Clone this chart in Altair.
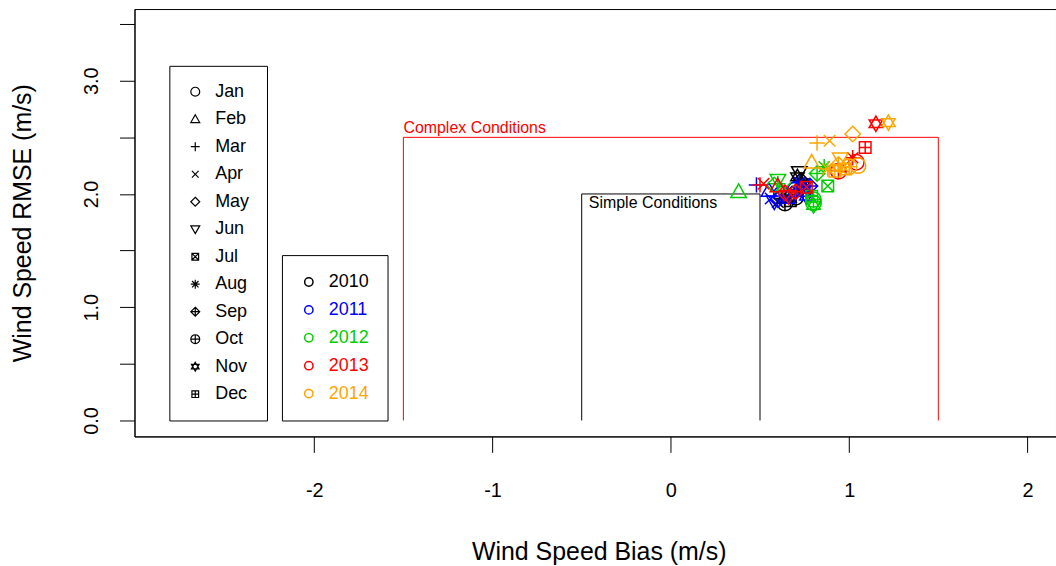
import altair as alt
import pandas as pd

months = ["Jan", "Feb", "Mar", "Apr", "May", "Jun", "Jul", "Aug", "Sep", "Oct", "Nov", "Dec"]
years = ["2010", "2011", "2012", "2013", "2014"]
year_colors = ["#000000", "#0000FF", "#00CD00", "#FF0000", "#FFA500"]

# bias (x) and RMSE (y) per year, Jan..Dec
bias_2010 = [0.70, 0.66, 0.62, 0.60, 0.68, 0.72, 0.74, 0.76, 0.73, 0.64, 0.71, 0.67]
rmse_2010 = [1.97, 1.98, 1.96, 1.93, 2.00, 2.19, 2.08, 2.03, 2.12, 1.92, 2.15, 1.94]
bias_2011 = [0.62, 0.55, 0.48, 0.56, 0.60, 0.58, 0.74, 0.72, 0.78, 0.70, 0.76, 0.66]
rmse_2011 = [2.00, 2.03, 2.08, 1.96, 1.95, 1.93, 2.03, 2.10, 2.07, 2.04, 1.98, 1.97]
bias_2012 = [0.80, 0.38, 0.60, 0.64, 0.58, 0.60, 0.88, 0.86, 0.82, 0.80, 0.80, 0.79]
rmse_2012 = [1.92, 2.02, 2.09, 2.05, 2.08, 2.12, 2.07, 2.24, 2.18, 1.95, 1.90, 1.98]
bias_2013 = [1.04, 0.60, 0.50, 0.52, 0.64, 0.66, 0.76, 1.02, 0.70, 0.94, 1.15, 1.09]
rmse_2013 = [2.28, 2.07, 2.08, 2.09, 2.01, 1.98, 2.06, 2.32, 2.02, 2.20, 2.62, 2.41]
bias_2014 = [1.05, 0.79, 0.82, 0.89, 1.02, 0.95, 0.98, 0.88, 0.94, 1.00, 1.22, 0.92]
rmse_2014 = [2.25, 2.28, 2.45, 2.47, 2.53, 2.31, 2.22, 2.22, 2.26, 2.24, 2.63, 2.20]

bias_all = [bias_2010, bias_2011, bias_2012, bias_2013, bias_2014]
rmse_all = [rmse_2010, rmse_2011, rmse_2012, rmse_2013, rmse_2014]

# condition boxes (open at bottom)
complex_x = [-1.5, -1.5, 1.5, 1.5]
complex_y = [0.0, 2.5, 2.5, 0.0]
simple_x = [-0.5, -0.5, 0.5, 0.5]
simple_y = [0.0, 2.0, 2.0, 0.0]

x_ticks = [-2, -1, 0, 1, 2]
y_ticks = [0.0, 0.5, 1.0, 1.5, 2.0, 2.5, 3.0, 3.5]

# R pch 1..12 style symbols
shape_paths = [
    "circle",
    "M0,-1L1,0.75L-1,0.75Z",
    "M-1,0L1,0M0,-1L0,1",
    "M-0.75,-0.75L0.75,0.75M-0.75,0.75L0.75,-0.75",
    "M0,-1L1,0L0,1L-1,0Z",
    "M0,1L1,-0.75L-1,-0.75Z",
    "M-0.75,-0.75L0.75,-0.75L0.75,0.75L-0.75,0.75ZM-0.75,-0.75L0.75,0.75M-0.75,0.75L0.75,-0.75",
    "M-1,0L1,0M0,-1L0,1M-0.72,-0.72L0.72,0.72M-0.72,0.72L0.72,-0.72",
    "M0,-1L1,0L0,1L-1,0ZM-1,0L1,0M0,-1L0,1",
    "M-1,0A1,1,0,1,1,1,0A1,1,0,1,1,-1,0ZM-1,0L1,0M0,-1L0,1",
    "M0,-1L0.87,0.5L-0.87,0.5ZM0,1L0.87,-0.5L-0.87,-0.5Z",
    "M-0.75,-0.75L0.75,-0.75L0.75,0.75L-0.75,0.75ZM-0.75,0L0.75,0M0,-0.75L0,0.75",
]

rows = []
for yi, yr in enumerate(years):
    for mi, m in enumerate(months):
        rows.append({"Month": m, "Year": yr, "Bias": bias_all[yi][mi], "RMSE": rmse_all[yi][mi]})
pts = pd.DataFrame(rows)

complex_df = pd.DataFrame({"o": range(4), "x": complex_x, "y": complex_y})
simple_df = pd.DataFrame({"o": range(4), "x": simple_x, "y": simple_y})

FONT = "Liberation Sans"
W, H = 925, 429
x_scale = alt.Scale(domain=[-3.008, 2.16], nice=False, zero=False)
y_scale = alt.Scale(domain=[-0.141, 3.633], nice=False, zero=False)

x_axis = alt.Axis(values=x_ticks, title="Wind Speed Bias (m/s)", grid=False, tickSize=16,
                  tickColor="black", domainColor="black", labelColor="black",
                  labelFontSize=20, labelFont=FONT, labelPadding=28,
                  labelExpr="toString(datum.value)",
                  titleFont=FONT, titleFontSize=25, titleFontWeight="normal", titleColor="black",
                  titleX=466, titleY=116, titleAlign="center", titleBaseline="middle")
y_axis = alt.Axis(values=y_ticks, title="Wind Speed RMSE (m/s)", grid=False, tickSize=15,
                  tickColor="black", domainColor="black", labelColor="black",
                  labelFontSize=20, labelFont=FONT, labelAngle=-90, labelAlign="center",
                  labelBaseline="bottom", labelPadding=18,
                  labelExpr="datum.value % 1 == 0 ? format(datum.value, '.1f') : ''",
                  titleFont=FONT, titleFontSize=25, titleFontWeight="normal", titleColor="black",
                  titleAngle=-90, titleX=-112, titleY=214.5, titleAlign="center", titleBaseline="middle")

complex_line = alt.Chart(complex_df).mark_line(strokeWidth=1, color="#FF0000").encode(
    x=alt.X("x:Q", scale=x_scale, axis=x_axis),
    y=alt.Y("y:Q", scale=y_scale, axis=y_axis),
    order="o:Q",
)
simple_line = alt.Chart(simple_df).mark_line(strokeWidth=1, color="#000000").encode(
    x=alt.X("x:Q", scale=x_scale),
    y=alt.Y("y:Q", scale=y_scale),
    order="o:Q",
)

text_complex = alt.Chart(pd.DataFrame({"x": [complex_x[1]], "y": [complex_y[1]], "t": ["Complex Conditions"]})).mark_text(
    font=FONT, fontSize=16, align="left", baseline="bottom", dy=-1, color="#FF0000").encode(
    x=alt.X("x:Q", scale=x_scale), y=alt.Y("y:Q", scale=y_scale), text="t:N")
text_simple = alt.Chart(pd.DataFrame({"x": [-0.46], "y": [simple_y[1]], "t": ["Simple Conditions"]})).mark_text(
    font=FONT, fontSize=16, align="left", baseline="top", dy=1, color="black").encode(
    x=alt.X("x:Q", scale=x_scale), y=alt.Y("y:Q", scale=y_scale), text="t:N")

point_layer = alt.Chart(pts).mark_point(filled=False, size=240, strokeWidth=1.5, opacity=1).encode(
    x=alt.X("Bias:Q", scale=x_scale),
    y=alt.Y("RMSE:Q", scale=y_scale),
    shape=alt.Shape("Month:N", scale=alt.Scale(domain=months, range=shape_paths),
                    legend=alt.Legend(orient="none", legendX=35, legendY=57, title=None,
                                      strokeColor="black", fillColor="white", padding=17,
                                      symbolSize=80, symbolStrokeColor="black", symbolStrokeWidth=1.2,
                                      symbolFillColor="transparent",
                                      labelFontSize=18, labelFont=FONT, labelColor="black",
                                      rowPadding=9.6, labelOffset=11)),
    color=alt.Color("Year:N", scale=alt.Scale(domain=years, range=year_colors),
                    legend=alt.Legend(orient="none", legendX=148, legendY=247, title=None,
                                      strokeColor="black", fillColor="white", padding=18,
                                      symbolType="circle", symbolSize=70, symbolStrokeWidth=1.5,
                                      symbolFillColor="transparent",
                                      labelFontSize=18, labelFont=FONT,
                                      labelColor=alt.ExprRef("scale('color', datum.value)"),
                                      rowPadding=10, labelOffset=11)),
)

chart = alt.layer(complex_line, simple_line, text_complex, text_simple, point_layer).properties(
    width=W, height=H,
    autosize=alt.AutoSizeParams(type="none"),
    padding={"left": 135, "top": 8, "right": 0, "bottom": 129},
    background="white",
).configure_view(stroke="black", strokeWidth=1)

chart.save("out.html", embed_options={"renderer": "svg", "actions": False})
